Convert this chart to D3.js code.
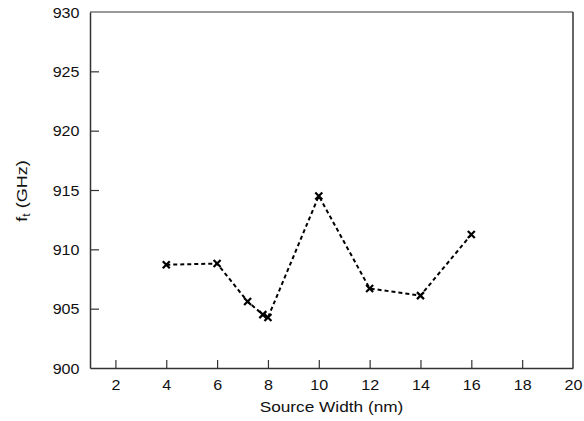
<!DOCTYPE html>
<html>
<head>
<meta charset="utf-8">
<script src="https://cdn.jsdelivr.net/npm/d3@7"></script>
<style>
  html, body { margin: 0; padding: 0; background: #fff; }
  svg text { font-family: "Liberation Sans", Arial, Helvetica, sans-serif; fill: #111; }
</style>
</head>
<body>
<svg id="chart" width="584" height="421"></svg>
<script>
const sourceWidth = [4, 6, 7.2, 7.8, 8, 10, 12, 14, 16];
const ftGHz = [908.7, 908.8, 905.6, 904.5, 904.25, 914.5, 906.7, 906.1, 911.25];
const xTicks = [2, 4, 6, 8, 10, 12, 14, 16, 18, 20];
const yTicks = [900, 905, 910, 915, 920, 925, 930];
const xTitle = "Source Width (nm)";
const yTitle = ["f", "t", " (GHz)"];

const svg = d3.select("#chart");
const m = { left: 90, right: 573, top: 12, bottom: 368 };
const x = d3.scaleLinear().domain([1, 20]).range([m.left, m.right]);
const y = d3.scaleLinear().domain([900, 930]).range([m.bottom, m.top]);
const sx = 1.15;

// frame
svg.append("line").attr("x1", m.left).attr("x2", m.right).attr("y1", m.top).attr("y2", m.top)
  .attr("stroke", "#777").attr("stroke-width", 1.5);
svg.append("line").attr("x1", m.right).attr("x2", m.right).attr("y1", m.top).attr("y2", m.bottom)
  .attr("stroke", "#333").attr("stroke-width", 1.5);

// x axis
const xAxis = svg.append("g").attr("transform", `translate(0,${m.bottom})`)
  .call(d3.axisBottom(x).tickValues(xTicks).tickSizeInner(-8).tickSizeOuter(0).tickFormat(d3.format("d")));
xAxis.select(".domain").attr("stroke", "#333").attr("stroke-width", 1.5);
xAxis.selectAll(".tick line").attr("stroke", "#333").attr("stroke-width", 1.2)
  .filter(d => d === 20).remove();
xAxis.selectAll(".tick text").attr("font-size", 14).attr("y", 0).attr("dy", 0)
  .attr("transform", `translate(0,22) scale(${sx},1)`);

// y axis
const yAxis = svg.append("g").attr("transform", `translate(${m.left},0)`)
  .call(d3.axisLeft(y).tickValues(yTicks).tickSizeInner(-9).tickSizeOuter(0).tickFormat(d3.format("d")));
yAxis.select(".domain").attr("stroke", "#333").attr("stroke-width", 1.5);
yAxis.selectAll(".tick line").attr("stroke", "#333").attr("stroke-width", 1.2)
  .filter(d => d === 900 || d === 930).remove();
yAxis.selectAll(".tick text").attr("font-size", 14).attr("x", 0).attr("dy", "0.36em")
  .attr("transform", `translate(-10.5,0) scale(${sx},1)`);

// titles
svg.append("text").attr("transform", `translate(${(m.left + m.right) / 2},412) scale(${sx},1)`)
  .attr("text-anchor", "middle").attr("font-size", 15).text(xTitle);
const yt = svg.append("text").attr("transform", `translate(26.5,191) rotate(-90) scale(1.2,1)`)
  .attr("text-anchor", "middle").attr("font-size", 15);
yt.append("tspan").text(yTitle[0]);
yt.append("tspan").attr("font-size", 10).attr("dy", 3).text(yTitle[1]);
yt.append("tspan").attr("dy", -3).text(yTitle[2]);

// data
const data = sourceWidth.map((d, i) => ({ x: d, y: ftGHz[i] }));
svg.append("path").datum(data)
  .attr("fill", "none").attr("stroke", "#000").attr("stroke-width", 2)
  .attr("stroke-dasharray", "4,3")
  .attr("d", d3.line().x(d => x(d.x)).y(d => y(d.y)));

const s = 3.5;
svg.append("g").selectAll("path.mk").data(data).join("path")
  .attr("class", "mk")
  .attr("d", d => {
    const cx = x(d.x), cy = y(d.y);
    return `M${cx - s},${cy - s}L${cx + s},${cy + s}M${cx - s},${cy + s}L${cx + s},${cy - s}`;
  })
  .attr("stroke", "#000").attr("stroke-width", 2.2).attr("fill", "none");
</script>
</body>
</html>
